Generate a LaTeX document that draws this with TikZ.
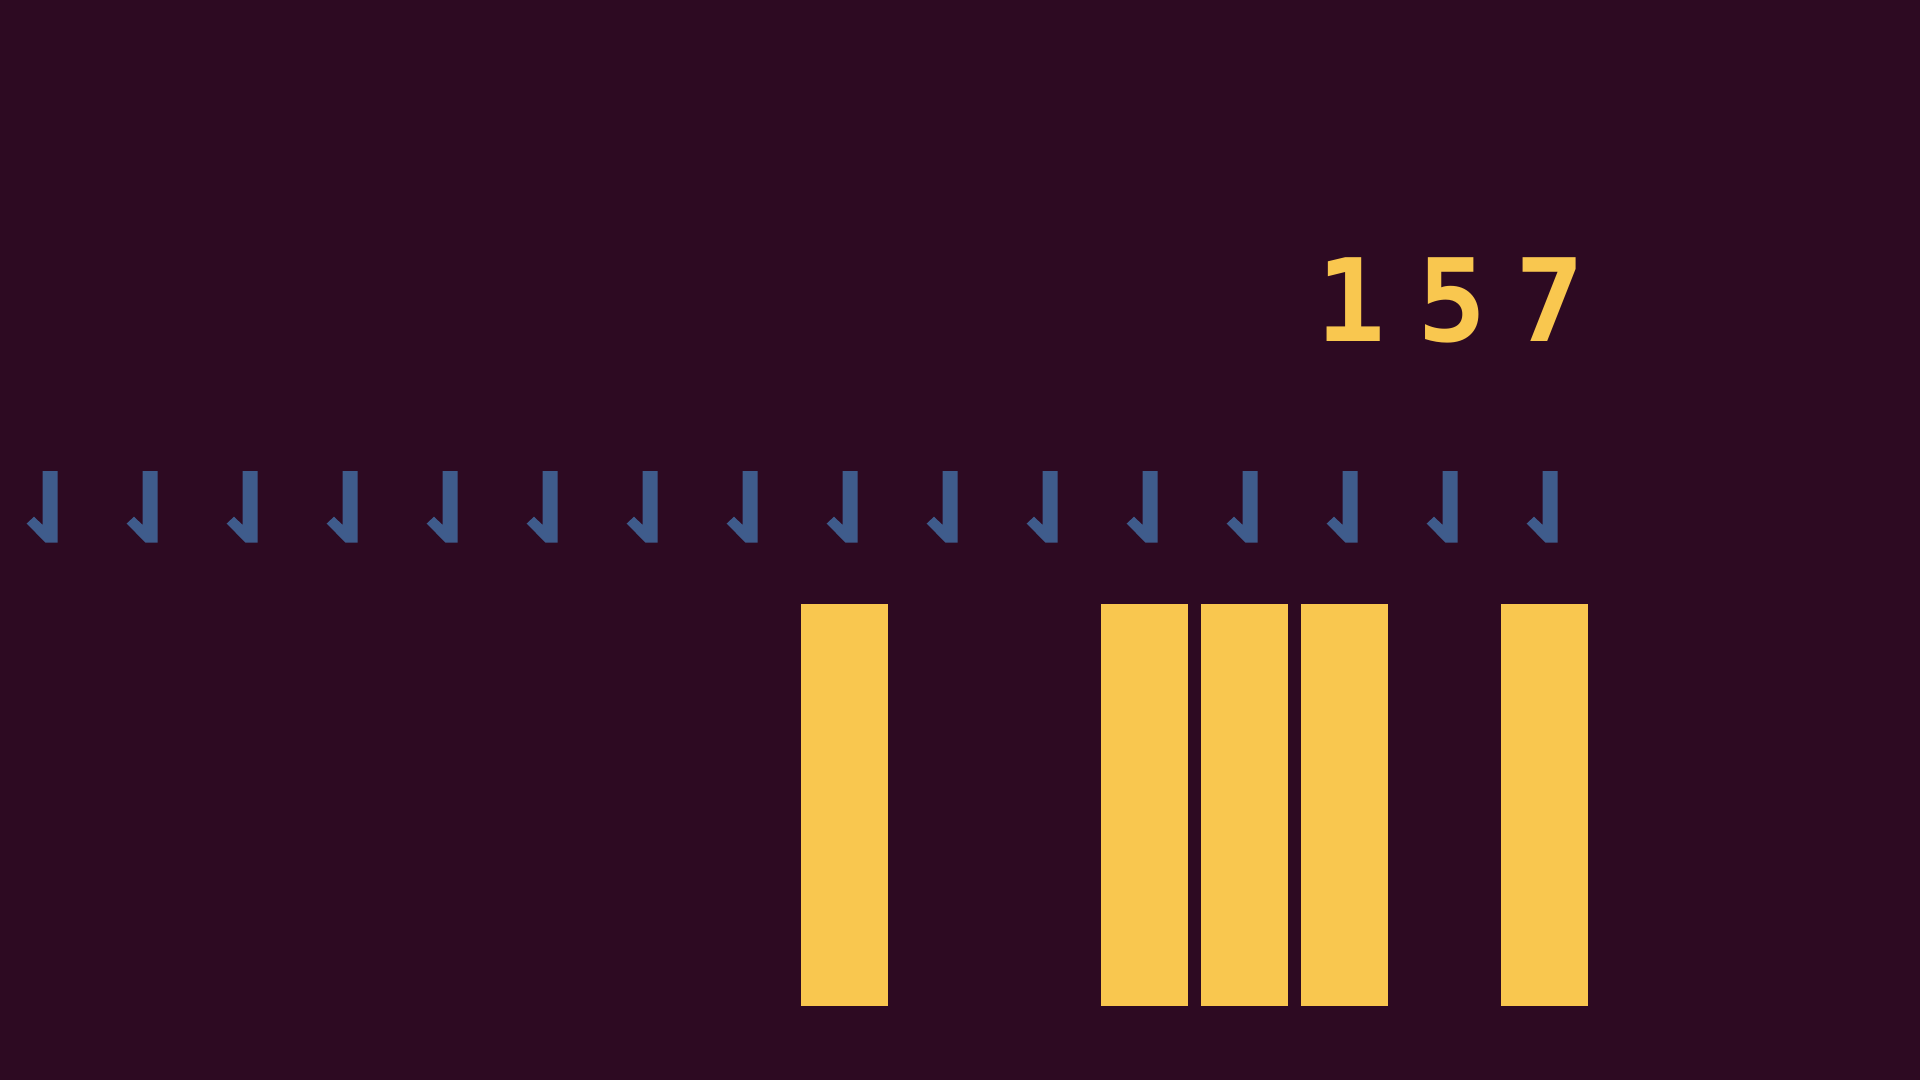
\documentclass[tikz,border=0pt]{standalone}
\usepackage{fontspec}
\usepackage{xcolor}
\setmonofont{DejaVu Sans Mono}

\definecolor{bgplum}{HTML}{2D0A22}
\definecolor{bitblue}{HTML}{3F5C8C}
\definecolor{bityellow}{HTML}{F9C74F}

\begin{document}
\begin{tikzpicture}[x=1pt,y=-1pt]
        \fill[bgplum] (0,0) rectangle (1920,1080);
        \useasboundingbox (0,0) rectangle (1920,1080);

        % pointers
        \foreach \i in {0,...,15}
          \fill[bitblue,shift={(100*\i,0)}] (42.7,471) -- (57.5,471) -- (57.5,542.7) -- (45.5,542.7)
            -- (26.7,523.5) -- (34,516.7) -- (42.7,525) -- cycle;

        % set bits
        \foreach \k in {0,3,4,5,7}
          \fill[bityellow] (801+100*\k,604) rectangle (887.7+100*\k,1006);

        \node[anchor=base,inner sep=0pt,text=bityellow,font=\ttfamily\bfseries\fontsize{115}{115}\selectfont] (one) at (1351,341) {1};
        \node[anchor=base,inner sep=0pt,text=bityellow,font=\ttfamily\bfseries\fontsize{115}{115}\selectfont] (five) at (1452,341) {5};
        \node[anchor=base,inner sep=0pt,text=bityellow,font=\ttfamily\bfseries\fontsize{115}{115}\selectfont] (seven) at (1550,341) {7};
      \end{tikzpicture}
\end{document}
